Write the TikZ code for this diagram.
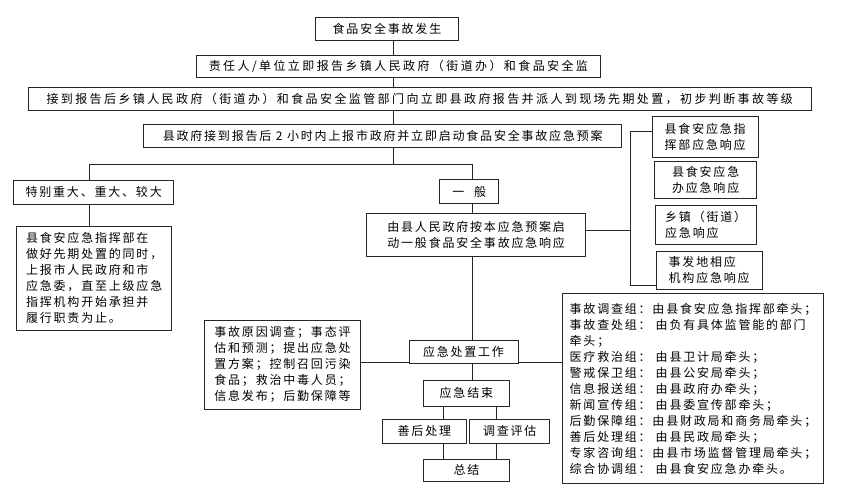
\documentclass[tikz,border=0pt]{standalone}
\usepackage{fontspec}
\newfontfamily\cjk[LetterSpace=15]{Noto Sans CJK SC}
\newfontfamily\cjkwide[LetterSpace=20]{Noto Sans CJK SC}
\usepackage{tikz}
\usetikzlibrary{shapes.geometric, positioning}
\tikzstyle{block} = [rectangle, draw=black!85, line width=0.7pt, inner sep=2pt,
text centered, font=\cjk\fontsize{12pt}{16pt}\selectfont]
\tikzstyle{note} = [rectangle, draw=black!85, line width=0.7pt, inner sep=2pt,
align=left, font=\cjk\fontsize{12pt}{16pt}\selectfont]
\tikzstyle{link} = [draw=black!85, line width=0.7pt]

\begin{document}
\begin{tikzpicture}[node distance = 37pt]
\useasboundingbox (0,0) rectangle (845pt,-501pt);

% ------------------------- nodes -------------------------

% ----- node: 0
\node(0)[block, minimum width=143pt, minimum height=23pt] at (387pt,-29pt) {食品安全事故发生};
% ----- node: 1
\node(1)[block, font=\cjkwide\fontsize{12pt}{16pt}\selectfont, below of=0, xshift=11.4pt, minimum width=404pt, minimum height=22pt]{责任人/单位立即报告乡镇人民政府（街道办）和食品安全监};
% ----- node: 2
\node(2)[block, font=\cjkwide\fontsize{12pt}{16pt}\selectfont, below of=1, xshift=21.3pt, yshift=4pt, minimum width=783pt, minimum height=23.5pt]{接到报告后乡镇人民政府（街道办）和食品安全监管部门向立即县政府报告并派人到现场先期处置，初步判断事故等级};
% ----- node: 3
\node(3)[block, below of=2, xshift=-37pt, minimum width=478pt, minimum height=23pt]{县政府接到报告后 2 小时内上报市政府并立即启动食品安全事故应急预案};
% ----- node: 4
\node(4)[block, below of=3, xshift=-289pt, yshift=-19.3pt, minimum width=160pt, minimum height=24pt]{特别重大、重大、较大};
\node(5)[note, below of=4, xshift=0.5pt, yshift=-49pt, minimum width=155pt, minimum height=104pt]{县食安应急指挥部在\\做好先期处置的同时，\\上报市人民政府和市\\应急委，直至上级应急\\指挥机构开始承担并\\履行职责为止。};
% ----- node: 6
\node(6)[block, below of=3, xshift=86.5pt, yshift=-18.5pt, minimum width=59pt, minimum height=24pt]{一\hspace{0.8em}般};
\node(7)[note, below of=6, xshift=7pt, yshift=-6.3pt, minimum width=219pt, minimum height=42.7pt]{由县人民政府按本应急预案启\\动一般食品安全事故应急响应};
% ----- responses
\node(resp1)[note, right of=3, xshift=285.5pt, yshift=-1.3pt, minimum width=105.6pt, minimum height=41pt]{县食安应急指\\挥部应急响应};
\node(resp2)[note, below of=resp1, xshift=0.5pt, yshift=-5.7pt, minimum width=102pt, minimum height=37.6pt]{县食安应急\\办应急响应};
\node(resp3)[note, below of=resp2, yshift=-7.8pt, minimum width=101.7pt, minimum height=39.3pt]{乡镇（街道）\\应急响应};
\node(resp4)[note, below of=resp3, xshift=3.5pt, yshift=-8.5pt, minimum width=106.7pt, minimum height=38.3pt]{事发地相应\\机构应急响应};
% ----- node: 8
\node(8)[block, below of=7, xshift=-12.7pt, yshift=-80pt, minimum width=109pt, minimum height=23.3pt]{应急处置工作};
\node(task)[note, left of=8, xshift=-144pt, yshift=-13pt, minimum width=155.7pt, minimum height=89.3pt]{事故原因调查；事态评\\估和预测；提出应急处\\置方案；控制召回污染\\食品；救治中毒人员；\\信息发布；后勤保障等};
\node(team)[note, right of=8, xshift=192.5pt, yshift=-36.7pt, minimum width=261.3pt, minimum height=190pt]{事故调查组：由县食安应急指挥部牵头；\\事故查处组：\hspace{5pt}由负有具体监管能的部门\\牵头；\\医疗救治组：\hspace{5pt}由县卫计局牵头；\\警戒保卫组：\hspace{5pt}由县公安局牵头；\\信息报送组：\hspace{5pt}由县政府办牵头；\\新闻宣传组：\hspace{5pt}由县委宣传部牵头；\\后勤保障组：由县财政局和商务局牵头；\\善后处理组：\hspace{5pt}由县民政局牵头；\\专家咨询组：由县市场监督管理局牵头；\\综合协调组：\hspace{5pt}由县食安应急办牵头。};
% ----- node: 9
\node(9)[block, below of=8, xshift=2.9pt, yshift=-4.4pt, minimum width=86.7pt, minimum height=26pt]{应急结束};
\node(10)[block, below of=9, xshift=-42pt, yshift=-1pt, minimum width=84pt, minimum height=23.3pt]{善后处理};
\node(11)[block, right of=10, xshift=48.3pt, minimum width=80pt, minimum height=23.3pt]{调查评估};
\node(12)[block, below of=9, yshift=-40pt, minimum width=86.7pt, minimum height=21.7pt]{总结};

% ------------------------- connections -------------------------
\coordinate(spine) at (393.3pt,0);
\coordinate(lcol) at (89.3pt,0);
\coordinate(col) at (472pt,0);
\coordinate(rcol) at (630.5pt,0);
\coordinate(c1) at (443.3pt,0);
\coordinate(c2) at (496pt,0);
\draw[link](0.south -| spine)--(1.north -| spine);
\draw[link](1.south -| spine)--(2.north -| spine);
\draw[link](2.south -| spine)--(3.north -| spine);
\draw[link](3.south -| spine)--++(0,-16pt) coordinate(fork);
\draw[link](4.north -| lcol)|-(fork)-|(6.north -| col);
\draw[link](4.south -| lcol)--(5.north -| lcol);
\draw[link](6.south -| col)--(7.north -| col);
\draw[link](7.south -| col)--(8.north -| col);
% right bracket
\coordinate(r1in) at ([yshift=6pt]resp1.west);
\coordinate(r4in) at ([yshift=-15pt]resp4.west);
\coordinate(b7out) at ([yshift=4pt]7.east);
\draw[link](r1in)--(r1in -| rcol)--(r4in -| rcol)--(r4in);
\draw[link](b7out)--(b7out -| rcol);
% side boxes
\coordinate(wl) at ([yshift=1.5pt]8.south west);
\coordinate(wr) at ([yshift=1.5pt]8.south east);
\draw[link](wl)--(wl -| task.east);
\draw[link](wr)--(wr -| team.west);
\draw[link](8.south -| col)--(9.north -| col);
\draw[link](9.south -| c1)--(10.north -| c1);
\draw[link](9.south -| c2)--(11.north -| c2);
\draw[link](10.south -| c1)--(12.north -| c1);
\draw[link](11.south -| c2)--(12.north -| c2);

\end{tikzpicture}
\end{document}
